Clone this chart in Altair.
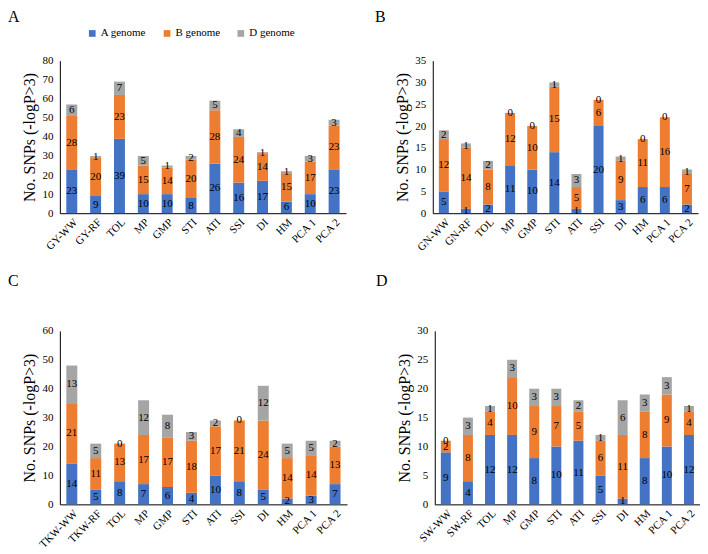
import altair as alt
import pandas as pd

FONT = "Liberation Serif, Times New Roman, serif"
genomes = ["A genome", "B genome", "D genome"]
colors = ["#4472C4", "#ED7D31", "#A5A5A5"]
letters = ["A", "B", "C", "D"]
ytitle = "No. SNPs (-logP>3)"

cats_a = ["GY-WW", "GY-RF", "TOL", "MP", "GMP", "STI", "ATI", "SSI", "DI", "HM", "PCA 1", "PCA 2"]
a_A = [23, 9, 39, 10, 10, 8, 26, 16, 17, 6, 10, 23]
a_B = [28, 20, 23, 15, 14, 20, 28, 24, 14, 15, 17, 23]
a_D = [6, 1, 7, 5, 1, 2, 5, 4, 1, 1, 3, 3]

cats_b = ["GN-WW", "GN-RF", "TOL", "MP", "GMP", "STI", "ATI", "SSI", "DI", "HM", "PCA 1", "PCA 2"]
b_A = [5, 1, 2, 11, 10, 14, 1, 20, 3, 6, 6, 2]
b_B = [12, 14, 8, 12, 10, 15, 5, 6, 9, 11, 16, 7]
b_D = [2, 1, 2, 0, 0, 1, 3, 0, 1, 0, 0, 1]

cats_c = ["TKW-WW", "TKW-RF", "TOL", "MP", "GMP", "STI", "ATI", "SSI", "DI", "HM", "PCA 1", "PCA 2"]
c_A = [14, 5, 8, 7, 6, 4, 10, 8, 5, 2, 3, 7]
c_B = [21, 11, 13, 17, 17, 18, 17, 21, 24, 14, 14, 13]
c_D = [13, 5, 0, 12, 8, 3, 2, 0, 12, 5, 5, 2]

cats_d = ["SW-WW", "SW-RF", "TOL", "MP", "GMP", "STI", "ATI", "SSI", "DI", "HM", "PCA 1", "PCA 2"]
d_A = [9, 4, 12, 12, 8, 10, 11, 5, 1, 8, 10, 12]
d_B = [2, 8, 4, 10, 9, 7, 5, 6, 11, 8, 9, 4]
d_D = [0, 3, 1, 3, 3, 3, 2, 1, 6, 3, 3, 1]


def make_df(cats, A, B, D):
    rows = []
    for i, c in enumerate(cats):
        cum = 0
        for o, (g, v) in enumerate(zip(genomes, (A[i], B[i], D[i]))):
            rows.append(dict(cat=c, genome=g, value=v, order=o, mid=cum + v / 2))
            cum += v
    return pd.DataFrame(rows)


def panel(letter, cats, A, B, D, ymax, ystep, w, h, bar, legx, legy, lx, ly):
    df = make_df(cats, A, B, D)
    xscale = alt.Scale(paddingInner=0, paddingOuter=0)
    xaxis = alt.Axis(labelAngle=-45, ticks=False, domainColor="black",
                     labelFont=FONT, labelFontSize=11, labelColor="black",
                     labelPadding=3)
    yscale = alt.Scale(domain=[0, ymax], nice=False)
    yaxis = alt.Axis(values=list(range(0, ymax + 1, ystep)), ticks=False, grid=False,
                     labelOverlap=False,
                     domainColor="black", labelFont=FONT, labelFontSize=11,
                     labelColor="black", labelPadding=7, title=ytitle,
                     titleFont=FONT, titleFontSize=16, titleFontWeight="normal",
                     titleColor="black", titlePadding=4)
    base = alt.Chart(df)
    bars = base.mark_bar(size=bar).encode(
        x=alt.X("cat:N", sort=cats, title=None, scale=xscale, axis=xaxis),
        y=alt.Y("value:Q", stack="zero", scale=yscale, axis=yaxis, title=ytitle),
        color=alt.Color(
            "genome:N",
            scale=alt.Scale(domain=genomes, range=colors),
            legend=alt.Legend(title=None, orient="none", direction="horizontal",
                              legendX=legx, legendY=legy, symbolType="square",
                              symbolSize=45, symbolStrokeWidth=0,
                              labelFont=FONT, labelFontSize=11, labelColor="black",
                              columnPadding=15, labelOffset=3),
        ),
        order=alt.Order("order:Q", sort="ascending"),
    )
    text = base.mark_text(font=FONT, fontSize=11, color="black").encode(
        x=alt.X("cat:N", sort=cats, title=None, scale=xscale, axis=xaxis),
        y=alt.Y("mid:Q", scale=yscale, axis=yaxis, title=ytitle),
        text="value:Q",
    )
    lab = alt.Chart(pd.DataFrame({"t": [letter]})).mark_text(
        align="left", baseline="top", font=FONT, fontSize=16, color="black"
    ).encode(text="t:N", x=alt.value(lx), y=alt.value(ly))
    return alt.layer(bars, text, lab).properties(width=w, height=h)


pA = panel(letters[0], cats_a, a_A, a_B, a_D, 80, 10, 287, 153, 11, 27, -33, -52, -52)
pB = panel(letters[1], cats_b, b_A, b_B, b_D, 35, 5, 266, 153, 10, 23, -33, -58, -52)
pC = panel(letters[2], cats_c, c_A, c_B, c_D, 60, 10, 288, 174, 11, 27, -33, -52, -58)
pD = panel(letters[3], cats_d, d_A, d_B, d_D, 30, 5, 266, 174, 10, 23, -33, -59, -58)

chart = alt.vconcat(
    alt.hconcat(pA, pB, spacing=29),
    alt.hconcat(pC, pD, spacing=29),
    spacing=20,
).properties(padding=0).configure_view(stroke=None)

chart.save("out.html", embed_options={"renderer": "svg", "actions": False})
